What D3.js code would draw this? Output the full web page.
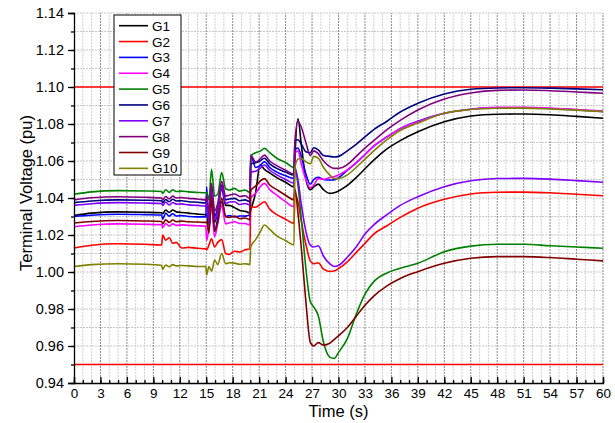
<!DOCTYPE html>
<html><head><meta charset="utf-8">
<script src="https://cdn.jsdelivr.net/npm/d3@7"></script>
<style>body{margin:0;background:#fff}svg{display:block;font-family:"Liberation Sans",Arial,sans-serif}</style>
</head><body><svg id="c" width="615" height="423"></svg>
<script>
const times = [0,2,5,8,9.95, 10.05,10.4,10.8,11.2,11.6,12.2,13,14,14.95, 15.05,15.3,15.6,15.95,16.3,16.75,17.2,17.6, 18.2,18.8,19.4,19.95, 20.05,20.6,21.1,21.6,22.2,23,24,24.95, 25.05,25.4,25.8,26.3,26.8,27.2,27.7,28.3,29,29.5,30, 31,32,33,34,35.5,37,39,42,45,48,51,54,57,60];
const G1 = [1.0305,1.0318,1.0325,1.0323,1.032, 1.0315,1.0335,1.0322,1.0335,1.0325,1.0322,1.0318,1.0313,1.031, 1.031,1.022,1.044,1.027,1.033,1.045,1.036,1.036, 1.0348,1.0333,1.0328,1.032, 1.0335,1.043,1.0578,1.0555,1.0535,1.051,1.0485,1.046, 1.060,1.0828,1.068,1.050,1.0445,1.046,1.0475,1.0445,1.0425,1.0428,1.0438, 1.0468,1.051,1.0558,1.0605,1.0665,1.071,1.0758,1.0812,1.0843,1.0853,1.0854,1.085,1.0841,1.0831];
const G2 = [1.013,1.0145,1.0153,1.015,1.0146, 1.020,1.0172,1.0185,1.0155,1.016,1.013,1.0133,1.0128,1.0125, 1.012,1.0145,1.018,1.0135,1.016,1.0175,1.010,1.0095, 1.0112,1.0108,1.012,1.0125, 1.0353,1.035,1.0365,1.038,1.034,1.031,1.0285,1.0263, 1.0425,1.038,1.027,1.015,1.006,1.0045,1.005,1.0015,1.0003,1.0005,1.0018, 1.0055,1.0105,1.0155,1.0205,1.025,1.0295,1.0345,1.0393,1.0422,1.0431,1.0432,1.0428,1.042,1.0412];
const G3 = [1.030,1.0307,1.0312,1.031,1.0308, 1.0285,1.0318,1.0302,1.0315,1.0303,1.0305,1.030,1.0298,1.0298, 1.046,1.024,1.040,1.022,1.029,1.038,1.030,1.0305, 1.0298,1.0303,1.0302,1.031, 1.0632,1.0565,1.0575,1.0596,1.0565,1.054,1.052,1.0506, 1.066,1.067,1.062,1.053,1.0475,1.050,1.0512,1.050,1.0497,1.0498,1.051, 1.055,1.059,1.0635,1.068,1.073,1.0775,1.0815,1.0858,1.088,1.0888,1.0888,1.0884,1.0876,1.0868];
const G4 = [1.0245,1.0254,1.026,1.0258,1.0255, 1.024,1.0262,1.0248,1.026,1.0252,1.0255,1.0252,1.025,1.0248, 1.017,1.024,1.035,1.019,1.026,1.036,1.026,1.0265, 1.0272,1.0262,1.0262,1.0255, 1.040,1.0425,1.046,1.0479,1.0445,1.0415,1.038,1.0353, 1.064,1.0655,1.058,1.050,1.0455,1.047,1.0505,1.050,1.051,1.0515,1.0525, 1.0552,1.059,1.0635,1.068,1.073,1.0775,1.0812,1.0858,1.088,1.089,1.089,1.0886,1.0878,1.087];
const G5 = [1.042,1.0433,1.044,1.0438,1.0435, 1.0425,1.0445,1.043,1.0445,1.0435,1.0437,1.0433,1.043,1.0428, 1.043,1.039,1.0555,1.041,1.042,1.0537,1.045,1.0443, 1.0452,1.0437,1.0443,1.043, 1.0625,1.0645,1.0652,1.0668,1.0645,1.0615,1.0592,1.0565, 1.057,1.047,1.028,1.002,0.984,0.981,0.9765,0.962,0.954,0.9533,0.9565, 0.964,0.977,0.988,0.9948,0.9995,1.002,1.0047,1.011,1.014,1.015,1.015,1.0142,1.0135,1.0128];
const G6 = [1.0375,1.0384,1.039,1.0388,1.0385, 1.0375,1.0392,1.038,1.0393,1.0384,1.0385,1.038,1.0377,1.0373, 1.040,1.029,1.046,1.030,1.035,1.047,1.039,1.0395, 1.0398,1.0385,1.039,1.038, 1.0585,1.059,1.060,1.0615,1.0585,1.056,1.054,1.0524, 1.071,1.0715,1.069,1.065,1.0645,1.0672,1.066,1.063,1.0625,1.0622,1.0625, 1.0655,1.069,1.073,1.077,1.0815,1.0865,1.0912,1.0962,1.0988,1.0995,1.0996,1.0994,1.099,1.0985];
const G7 = [1.036,1.0369,1.0375,1.0373,1.037, 1.036,1.0378,1.0362,1.0376,1.0367,1.0368,1.0363,1.036,1.0356, 1.038,1.027,1.045,1.028,1.033,1.046,1.037,1.0378, 1.038,1.0365,1.037,1.0362, 1.054,1.0545,1.056,1.0578,1.055,1.0525,1.050,1.048, 1.056,1.050,1.036,1.022,1.0145,1.0135,1.0142,1.0085,1.0045,1.003,1.0035, 1.008,1.0135,1.0205,1.0255,1.031,1.036,1.0407,1.0461,1.0493,1.0505,1.0506,1.0502,1.0494,1.0485];
const G8 = [1.039,1.0401,1.0407,1.0404,1.040, 1.039,1.0408,1.0395,1.041,1.040,1.0402,1.0398,1.0395,1.039, 1.041,1.032,1.048,1.033,1.037,1.049,1.041,1.0415, 1.0422,1.0408,1.0412,1.0398, 1.063,1.0595,1.061,1.0632,1.060,1.0575,1.055,1.053, 1.070,1.0815,1.078,1.070,1.063,1.0655,1.064,1.060,1.057,1.056,1.056, 1.058,1.0625,1.067,1.071,1.077,1.082,1.0876,1.0935,1.0968,1.0982,1.0984,1.098,1.0973,1.0966];
const G9 = [1.0265,1.0273,1.0278,1.0276,1.0273, 1.026,1.0282,1.0268,1.0281,1.0272,1.0275,1.0272,1.027,1.0268, 1.027,1.021,1.040,1.022,1.027,1.040,1.030,1.0295, 1.0302,1.0288,1.0292,1.0282, 1.044,1.0465,1.049,1.0505,1.047,1.0445,1.0415,1.039, 1.045,1.032,1.012,0.984,0.962,0.960,0.9618,0.9605,0.9615,0.9635,0.9655, 0.970,0.976,0.982,0.987,0.9925,0.9965,1.0002,1.0047,1.0074,1.0083,1.0083,1.0078,1.0069,1.006];
const G10 = [1.003,1.004,1.0045,1.0042,1.0035, 1.0015,1.0038,1.0028,1.004,1.0033,1.0035,1.0033,1.003,1.003, 0.9984,1.003,1.0005,1.0065,1.004,1.010,1.0045,1.005, 1.0048,1.0042,1.0045,1.004, 1.0137,1.0175,1.0215,1.0254,1.023,1.0195,1.017,1.0146, 1.056,1.061,1.0615,1.0595,1.0585,1.0625,1.0615,1.0565,1.0525,1.0505,1.0505, 1.0525,1.0565,1.061,1.0655,1.0715,1.0765,1.0805,1.0858,1.0878,1.0885,1.0886,1.0882,1.0875,1.0867];
const seriesNames = ["G1","G2","G3","G4","G5","G6","G7","G8","G9","G10"];
const seriesValues = [G1,G2,G3,G4,G5,G6,G7,G8,G9,G10];
const seriesColors = ["#000000","#ff0000","#0000ff","#ff00ff","#008000","#000080","#8000ff","#800080","#800000","#808000"];
const limits = [0.95, 1.10];
const xTicks = [0,3,6,9,12,15,18,21,24,27,30,33,36,39,42,45,48,51,54,57,60];
const yTicks = [0.94,0.96,0.98,1.00,1.02,1.04,1.06,1.08,1.10,1.12,1.14];

const svg = d3.select("#c");
const x = d3.scaleLinear().domain([0,60]).range([74,603]);
const y = d3.scaleLinear().domain([0.94,1.14]).range([383,13]);
const xMinor = d3.range(0,61,1);
const yMinor = d3.range(0,21,1).map(i=>+(0.94+i*0.01).toFixed(2));

// grid
const g = svg.append("g");
g.selectAll(".hg").data(yMinor.filter(v=>v>0.94)).join("line")
  .attr("x1",x(0)).attr("x2",x(60)).attr("y1",d=>y(d)).attr("y2",d=>y(d))
  .attr("stroke","#c8c8c8").attr("stroke-width",1).attr("stroke-dasharray","2,1");
g.selectAll(".vg").data(xMinor.filter(v=>v>0)).join("line")
  .attr("x1",d=>x(d)).attr("x2",d=>x(d)).attr("y1",y(0.94)).attr("y2",y(1.14))
  .attr("stroke",d=>d%3===0?"#8a8a8a":"#cfcfcf").attr("stroke-width",1).attr("stroke-dasharray","2,1");

// limit lines
svg.selectAll(".lim").data(limits).join("line")
  .attr("x1",x(0)).attr("x2",x(60)).attr("y1",d=>y(d)).attr("y2",d=>y(d))
  .attr("stroke","#ff0000").attr("stroke-width",1.6);

// series
const line = d3.line().x((d,i)=>x(times[i])).y(d=>y(d)).curve(d3.curveMonotoneX);
svg.append("g").selectAll("path").data(seriesValues).join("path")
  .attr("d",d=>line(d)).attr("fill","none")
  .attr("stroke",(d,i)=>seriesColors[i]).attr("stroke-width",1.6).attr("stroke-linejoin","round");

// axes
const ax = svg.append("g").attr("transform",`translate(${x(0)},0)`);
ax.call(d3.axisLeft(y).tickValues(yTicks).tickFormat(d3.format(".2f")).tickSize(6).tickPadding(4));
ax.append("g").call(d3.axisLeft(y).tickValues(yMinor).tickFormat("").tickSize(3)).select(".domain").remove();
ax.selectAll("text").attr("font-size",14.5).attr("fill","#000").attr("font-family","Liberation Sans, Arial, sans-serif");
ax.selectAll("line,path").attr("stroke","#000").attr("stroke-width",1.3);

const bx = svg.append("g").attr("transform",`translate(0,${y(0.94)})`);
bx.call(d3.axisBottom(x).tickValues(xTicks).tickFormat(d3.format("d")).tickSize(-6).tickPadding(5));
bx.append("g").call(d3.axisBottom(x).tickValues(xMinor).tickFormat("").tickSize(-3)).select(".domain").remove();
bx.selectAll("text").attr("font-size",13.5).attr("fill","#000").attr("font-family","Liberation Sans, Arial, sans-serif");
bx.selectAll("line,path").attr("stroke","#000").attr("stroke-width",1.3);

// axis titles
svg.append("text").attr("x",x(30)).attr("y",417).attr("text-anchor","middle")
  .attr("font-size",16.5).text("Time (s)");
svg.append("text").attr("transform",`translate(32,193) rotate(-90)`).attr("text-anchor","middle")
  .attr("font-size",16.5).text("Terminal Voltage (pu)");

// legend
const lg = svg.append("g");
lg.append("rect").attr("x",114).attr("y",15).attr("width",67).attr("height",160)
  .attr("fill","#fff").attr("stroke","#000").attr("stroke-width",1);
const row = lg.selectAll(".row").data(seriesNames).join("g").attr("transform",(d,i)=>`translate(0,${25.7+i*15.85})`);
row.append("line").attr("x1",119).attr("x2",148).attr("stroke",(d,i)=>seriesColors[i]).attr("stroke-width",1.6);
row.append("text").attr("x",152).attr("y",5).attr("font-size",13.5).text(d=>d);
</script></body></html>
